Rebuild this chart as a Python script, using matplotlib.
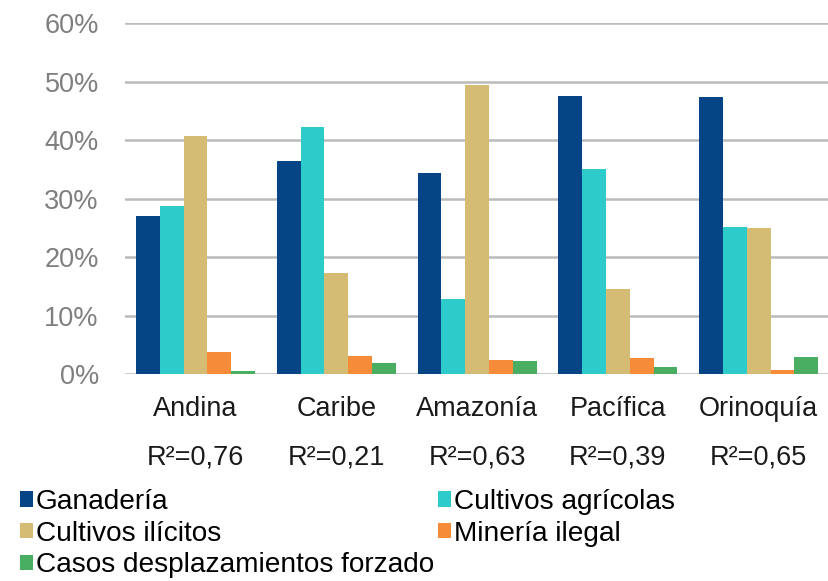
import matplotlib.pyplot as plt
import numpy as np

plt.rcParams['font.family'] = ['Liberation Sans', 'DejaVu Sans']

regions = ["Andina", "Caribe", "Amazonía", "Pacífica", "Orinoquía"]
r2_labels = ["R²=0,76", "R²=0,21", "R²=0,63", "R²=0,39", "R²=0,65"]

ganaderia = [0.271, 0.365, 0.344, 0.476, 0.474]
agricolas = [0.288, 0.422, 0.128, 0.350, 0.252]
ilicitos = [0.407, 0.173, 0.495, 0.146, 0.250]
mineria = [0.038, 0.031, 0.024, 0.027, 0.007]
desplazamientos = [0.006, 0.019, 0.022, 0.013, 0.029]

series = [
    ("Ganadería", ganaderia, "#064585"),
    ("Cultivos agrícolas", agricolas, "#2ECBCB"),
    ("Cultivos ilícitos", ilicitos, "#D5BC74"),
    ("Minería ilegal", mineria, "#F68B3A"),
    ("Casos desplazamientos forzado", desplazamientos, "#4AAE62"),
]

fig = plt.figure(figsize=(8.29, 5.81), dpi=100)
ax = fig.add_axes([0.151, 0.356, 0.849, 0.604])

x = np.arange(len(regions))
w = 0.169
handles = []
for i, (name, vals, col) in enumerate(series):
    b = ax.bar(x + (i - 2) * w, vals, w, color=col, label=name, zorder=3)
    handles.append(b)

ax.set_ylim(0, 0.6)
ax.set_xlim(-0.5, len(regions) - 0.5)
ax.set_yticks(np.arange(0, 0.61, 0.1))
ax.set_yticklabels([f"{int(round(v * 100))}%" for v in np.arange(0, 0.61, 0.1)])
ax.yaxis.grid(True, color="#BBBBBB", linewidth=1.8, zorder=0)
for s in ax.spines.values():
    s.set_visible(False)
ax.tick_params(axis='y', length=0, labelsize=19.5, labelcolor="#7F7F7F", pad=19)
ax.tick_params(axis='x', length=0, labelsize=19.5, labelcolor="#1A1A1A", pad=16)
ax.set_xticks(x)
ax.set_xticklabels(regions)

for xi, lab in zip(x, r2_labels):
    ax.text(xi, -0.238, lab, transform=ax.get_xaxis_transform(),
            ha='center', va='center', fontsize=19.5, color="#1A1A1A")

order = [0, 2, 4, 1, 3]
fig.legend([handles[i] for i in order], [series[i][0] for i in order],
           loc='upper left', bbox_to_anchor=(20 / 829, 1 - 489 / 581),
           ncol=2, frameon=False, fontsize=20.2, borderpad=0, borderaxespad=0,
           handlelength=0.45, handleheight=0.45, handletextpad=0.12,
           columnspacing=0.15, labelspacing=0.2)

fig.savefig("out.png", dpi=100)
